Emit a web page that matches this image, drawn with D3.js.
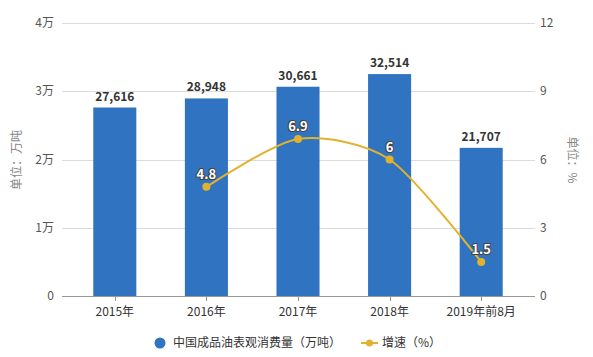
<!DOCTYPE html>
<html><head><meta charset="utf-8">
<script src="https://cdn.jsdelivr.net/npm/d3@7"></script>
<style>
body{margin:0;background:#fff;}
svg{font-family:"Noto Sans CJK SC","Noto Sans",sans-serif;}
</style></head>
<body>
<svg id="c" width="593" height="357"></svg>
<script>
const categories = ["2015年","2016年","2017年","2018年","2019年前8月"];
const consumption = [27616, 28948, 30661, 32514, 21707];
const growth = [null, 4.8, 6.9, 6, 1.5];
const leftTicks = [0, 10000, 20000, 30000, 40000];
const leftTickLabels = ["0","1万","2万","3万","4万"];
const rightTicks = [0, 3, 6, 9, 12];
const seriesNames = ["中国成品油表观消费量（万吨）","增速（%）"];

(function(){
const svg = d3.select("#c");
const pLeft = 62, pRight = 535, pTop = 23, pBottom = 296;
const barColor = "#2f73c1", lineColor = "#e2b22e";

const x = d3.scaleBand().domain(categories).range([69, 527]).paddingInner(0.53).paddingOuter(0.265);
const yL = d3.scaleLinear().domain([0, 40000]).range([pBottom, pTop]);
const yR = d3.scaleLinear().domain([0, 12]).range([pBottom, pTop]);

// grid
svg.append("g").selectAll("line").data(leftTicks.slice(1)).join("line")
  .attr("x1", pLeft).attr("x2", pRight).attr("y1", d=>Math.round(yL(d))+0.5).attr("y2", d=>Math.round(yL(d))+0.5)
  .attr("stroke", "#dcdcdc").attr("stroke-width", 1);

// left axis labels
svg.append("g").selectAll("text").data(leftTicks).join("text")
  .attr("x", 54).attr("y", d=>yL(d)).attr("dy","0.35em").attr("text-anchor","end")
  .attr("font-size", 12).attr("fill", "#555").text((d,i)=>leftTickLabels[i]);
// right axis labels
svg.append("g").selectAll("text").data(rightTicks).join("text")
  .attr("x", 540).attr("y", d=>yR(d)).attr("dy","0.35em").attr("text-anchor","start")
  .attr("font-size", 12).attr("fill", "#555").text(d=>d);

// axis titles
svg.append("text").attr("transform","translate(21,160) rotate(-90)").attr("text-anchor","middle")
  .attr("font-size",12).attr("fill","#888").text("单位：万吨");
svg.append("text").attr("transform","translate(568,160) rotate(90)").attr("text-anchor","middle")
  .attr("font-size",12).attr("fill","#888").text("单位：%");

// bars
const xc = d => x(d) + x.bandwidth()/2;
svg.append("g").selectAll("rect").data(consumption).join("rect")
  .attr("x", (d,i)=>x(categories[i])).attr("width", x.bandwidth())
  .attr("y", d=>yL(d)).attr("height", d=>pBottom - yL(d)).attr("fill", barColor);

// bar labels
svg.append("g").selectAll("text").data(consumption).join("text")
  .attr("x", (d,i)=>xc(categories[i])).attr("y", d=>yL(d)-7).attr("text-anchor","middle")
  .attr("font-size", 12).attr("font-weight","bold").attr("fill","#333")
  .text(d=>d3.format(",")(d));

// x axis
svg.append("line").attr("x1", pLeft).attr("x2", pRight).attr("y1", pBottom+0.5).attr("y2", pBottom+0.5)
  .attr("stroke","#999");
svg.append("g").selectAll("line").data(categories).join("line")
  .attr("x1", d=>Math.round(xc(d))+0.5).attr("x2", d=>Math.round(xc(d))+0.5)
  .attr("y1", pBottom).attr("y2", pBottom+5).attr("stroke","#999");
svg.append("g").selectAll("text").data(categories).join("text")
  .attr("x", d=>xc(d)).attr("y", 316).attr("text-anchor","middle")
  .attr("font-size", 12).attr("fill","#333").text(d=>d);

// line
const pts = growth.map((g,i)=>({c:categories[i], v:g})).filter(d=>d.v!==null);
const line = d3.line().x(d=>xc(d.c)).y(d=>yR(d.v)).curve(d3.curveCardinal.tension(0.2));
svg.append("path").datum(pts).attr("d", line).attr("fill","none")
  .attr("stroke", lineColor).attr("stroke-width", 2);
svg.append("g").selectAll("circle").data(pts).join("circle")
  .attr("cx", d=>xc(d.c)).attr("cy", d=>yR(d.v)).attr("r", 4).attr("fill", lineColor);
svg.append("g").selectAll("text").data(pts).join("text")
  .attr("x", d=>xc(d.c)).attr("y", d=>yR(d.v)-8).attr("text-anchor","middle")
  .attr("font-size", 13).attr("font-weight","bold").attr("fill","#fff")
  .attr("stroke","#444").attr("stroke-width",2).attr("paint-order","stroke")
  .text(d=>d.v);

// legend
const lg = svg.append("g");
lg.append("circle").attr("cx",160).attr("cy",343).attr("r",5.5).attr("fill",barColor);
lg.append("text").attr("x",173).attr("y",343).attr("dy","0.35em").attr("font-size",12).attr("fill","#333").text(seriesNames[0]);
lg.append("line").attr("x1",361).attr("x2",378).attr("y1",343).attr("y2",343).attr("stroke",lineColor).attr("stroke-width",2);
lg.append("circle").attr("cx",369.5).attr("cy",343).attr("r",3.5).attr("fill",lineColor);
lg.append("text").attr("x",382).attr("y",343).attr("dy","0.35em").attr("font-size",12).attr("fill","#333").text(seriesNames[1]);
})();
</script>
</body></html>
